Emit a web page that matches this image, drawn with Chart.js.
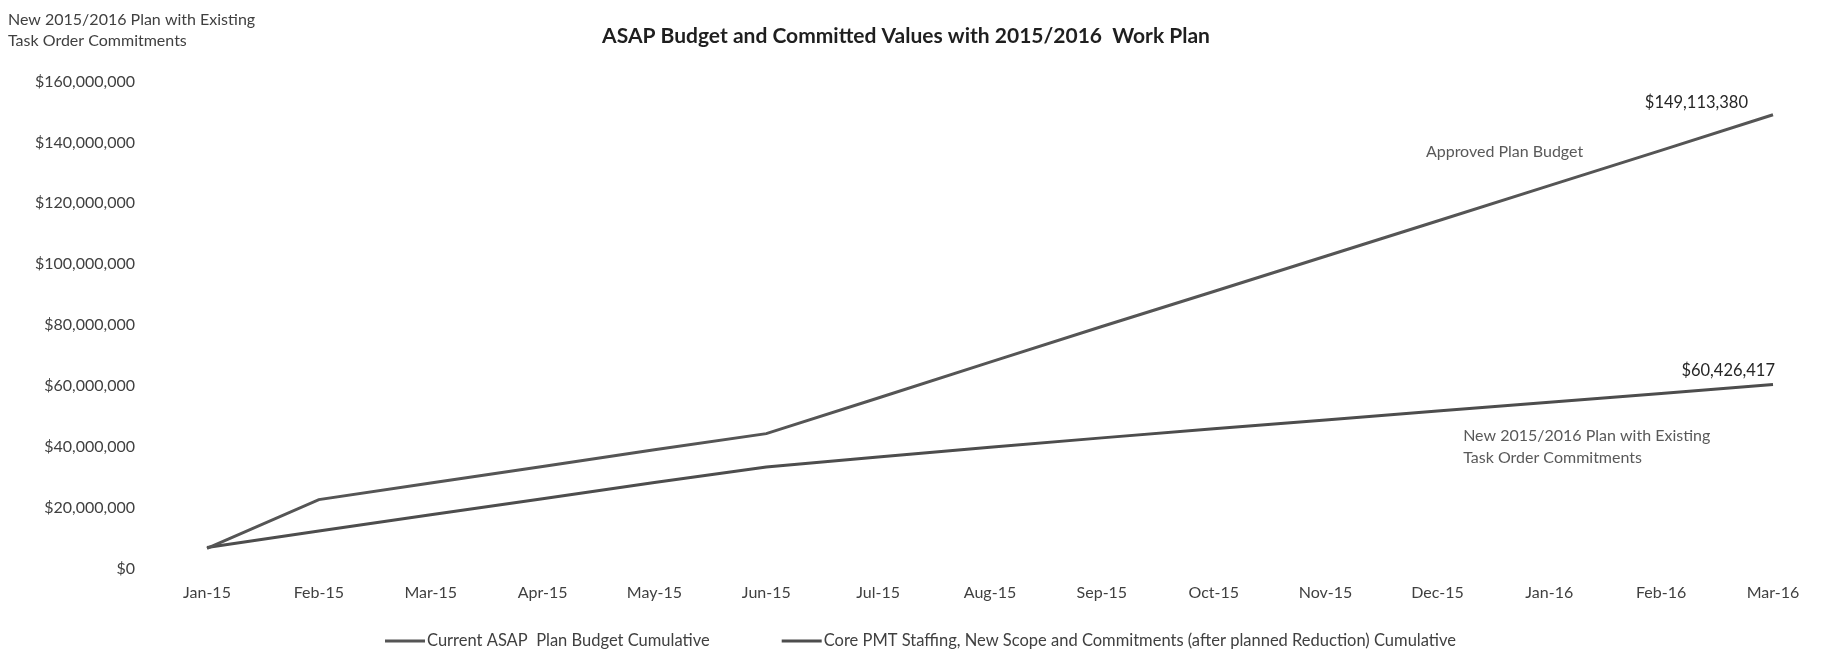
<!DOCTYPE html>
<html>
<head>
<meta charset="utf-8">
<script src="https://cdn.jsdelivr.net/npm/chart.js@4/dist/chart.umd.min.js"></script>
<style>
  html, body { margin: 0; padding: 0; background: #ffffff; }
  #wrap { width: 1824px; height: 650px; position: relative; }
</style>
</head>
<body>
<div id="wrap"><canvas id="c" width="1824" height="650"></canvas></div>
<script>
// ---- data ----
const categories = ['Jan-15','Feb-15','Mar-15','Apr-15','May-15','Jun-15','Jul-15','Aug-15','Sep-15','Oct-15','Nov-15','Dec-15','Jan-16','Feb-16','Mar-16'];
const approvedBudget = [6600000, 22600000, 28100000, 33500000, 39000000, 44300000, 56000000, 67800000, 79500000, 91000000, 102600000, 114200000, 125800000, 137400000, 149113380];
const corePmt = [6900000, 12300000, 17600000, 22900000, 28200000, 33300000, 36600000, 39800000, 42900000, 45900000, 48800000, 51700000, 54600000, 57500000, 60426417];
const yTickValues = [0, 20000000, 40000000, 60000000, 80000000, 100000000, 120000000, 140000000, 160000000];
const seriesNames = ['Current ASAP  Plan Budget Cumulative', 'Core PMT Staffing, New Scope and Commitments (after planned Reduction) Cumulative'];
const titleText = 'ASAP Budget and Committed Values with 2015/2016  Work Plan';
const cornerNote = ['New 2015/2016 Plan with Existing', 'Task Order Commitments'];
const approvedNote = 'Approved Plan Budget';
const coreNote = ['New 2015/2016 Plan with Existing', 'Task Order Commitments'];

const FONT = 'Lato, "Open Sans", sans-serif';
const fmt = v => '$' + Math.round(v).toLocaleString('en-US');

const annotate = {
  id: 'annotate',
  afterDatasetsDraw(chart) {
    const ctx = chart.ctx;
    const xs = chart.scales.x, ys = chart.scales.y;
    const ds = chart.data.datasets;
    ctx.save();
    ctx.textBaseline = 'middle';

    // title
    ctx.font = 'bold 21px ' + FONT;
    ctx.fillStyle = '#1f1f1f';
    ctx.textAlign = 'center';
    ctx.fillText(titleText, 906, 36);

    // corner note
    ctx.font = '16px ' + FONT;
    ctx.fillStyle = '#404040';
    ctx.textAlign = 'left';
    ctx.fillText(cornerNote[0], 8, 20);
    ctx.fillText(cornerNote[1], 8, 41);

    // end value labels
    const last = categories.length - 1;
    const ax = xs.getPixelForValue(last), ay = ys.getPixelForValue(approvedBudget[last]);
    const cx = xs.getPixelForValue(last), cy = ys.getPixelForValue(corePmt[last]);
    ctx.font = '16.5px ' + FONT;
    ctx.fillStyle = '#262626';
    ctx.textAlign = 'right';
    ctx.fillText(fmt(approvedBudget[last]), ax - 25, ay - 12);
    ctx.fillText(fmt(corePmt[last]), cx + 2, cy - 14);

    // series notes
    ctx.font = '16px ' + FONT;
    ctx.fillStyle = '#595959';
    ctx.textAlign = 'center';
    ctx.fillText(approvedNote, xs.getPixelForValue(11.6), ys.getPixelForValue(136900000));
    ctx.textAlign = 'left';
    ctx.fillText(coreNote[0], xs.getPixelForValue(11.23), ys.getPixelForValue(43700000));
    ctx.fillText(coreNote[1], xs.getPixelForValue(11.23), ys.getPixelForValue(36400000));

    // legend
    ctx.font = '16.5px ' + FONT;
    ctx.fillStyle = '#404040';
    const lineW = 40, gap = 2, itemGap = 72;
    let lx = 385;
    const ly = 641;
    [0, 1].forEach(i => {
      ctx.strokeStyle = ds[i].borderColor;
      ctx.lineWidth = 3;
      ctx.beginPath();
      ctx.moveTo(lx, ly);
      ctx.lineTo(lx + lineW, ly);
      ctx.stroke();
      ctx.textAlign = 'left';
      ctx.fillText(ds[i].label, lx + lineW + gap, ly);
      lx += lineW + gap + ctx.measureText(ds[i].label).width + itemGap;
    });
    ctx.restore();
  }
};

new Chart(document.getElementById('c'), {
  type: 'line',
  data: {
    labels: categories,
    datasets: [
      { label: seriesNames[0], data: approvedBudget, borderColor: '#555555', borderWidth: 3, pointRadius: 0, tension: 0, fill: false },
      { label: seriesNames[1], data: corePmt, borderColor: '#4d4d4d', borderWidth: 3, pointRadius: 0, tension: 0, fill: false }
    ]
  },
  options: {
    responsive: false,
    animation: false,
    devicePixelRatio: 1,
    layout: { padding: { left: 0, right: 51, top: 72, bottom: 33 } },
    plugins: {
      legend: { display: false },
      tooltip: { enabled: false },
      title: { display: false }
    },
    scales: {
      x: {
        type: 'category',
        offset: false,
        grid: { display: false, drawTicks: false },
        border: { display: false },
        ticks: { color: '#404040', font: { family: FONT, size: 16 }, padding: 15, maxRotation: 0, autoSkip: false },
        afterFit(scale) { scale.height = 40; }
      },
      y: {
        min: 0,
        max: 160000000,
        grid: { display: false, drawTicks: false },
        border: { display: false },
        afterBuildTicks(scale) { scale.ticks = yTickValues.map(v => ({ value: v })); },
        afterFit(scale) { scale.width = 207; },
        ticks: {
          color: '#404040',
          font: { family: FONT, size: 16 },
          padding: 72,
          callback: v => fmt(v)
        }
      }
    }
  },
  plugins: [annotate]
});
</script>
</body>
</html>
